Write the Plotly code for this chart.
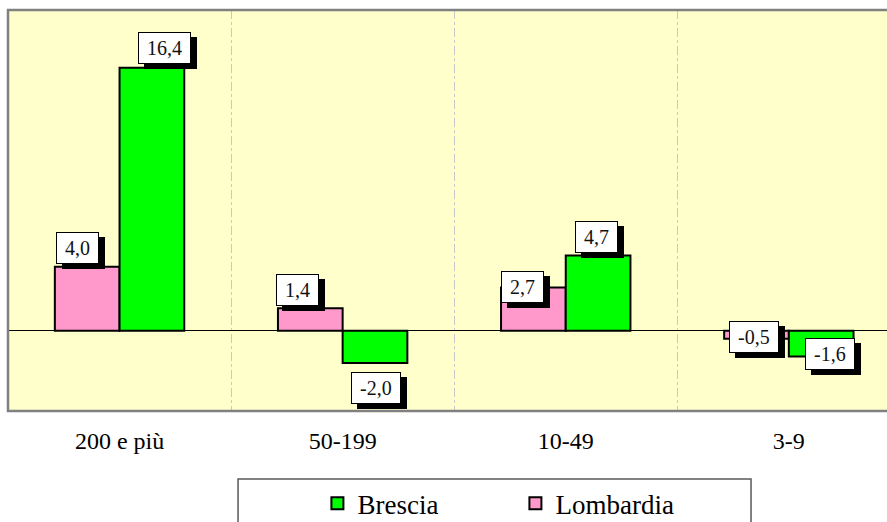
import plotly.graph_objects as go

categories = ["200 e più", "50-199", "10-49", "3-9"]
lombardia = [4.0, 1.4, 2.7, -0.5]
brescia = [16.4, -2.0, 4.7, -1.6]

font_name = "'Liberation Serif', 'Times New Roman', Times, serif"

fig = go.Figure()
fig.add_trace(go.Bar(x=categories, y=lombardia, name="Lombardia",
                     marker=dict(color="#FF99CC", line=dict(color="black", width=2))))
fig.add_trace(go.Bar(x=categories, y=brescia, name="Brescia",
                     marker=dict(color="#00FF00", line=dict(color="black", width=2))))


def label_text(v):
    return ("%.1f" % v).replace(".", ",")


def text_width(s, size=20):
    w = 0
    for ch in s:
        w += 0.25 if ch == "," else (0.333 if ch == "-" else 0.5)
    return w * size


# pixel offsets of the label boxes relative to category centre / bar end
lom_off = [(-42, 19), (-45, 18), (-43, 0), (-35, 2)]
bre_off = [(45, 20), (33, -25), (31, 18), (41, 2)]

annotations = []
for vals, offs in ((lombardia, lom_off), (brescia, bre_off)):
    for cat, v, (dx, dy) in zip(categories, vals, offs):
        t = label_text(v)
        w = text_width(t) + 8
        for shadow in (True, False):
            annotations.append(dict(
                x=cat, y=v, xref="x", yref="y", text=t, showarrow=False,
                xshift=dx + (6 if shadow else 0), yshift=dy - (5 if shadow else 0),
                width=w, height=22, borderpad=4, borderwidth=1,
                bordercolor="black",
                bgcolor="black" if shadow else "white",
                font=dict(family=font_name, size=20,
                          color="black" if shadow else "#111111"),
            ))

fig.update_layout(
    width=887, height=522,
    margin=dict(l=8, r=0, t=10, b=111, autoexpand=False),
    paper_bgcolor="white",
    plot_bgcolor="#FFFFCC",
    barmode="group",
    bargap=0.42,
    bargroupgap=0,
    font=dict(family=font_name, size=24, color="black"),
    showlegend=True,
    legend=dict(orientation="h", x=0.352, y=-0.17, xanchor="left", yanchor="top",
                traceorder="reversed", entrywidth=153, entrywidthmode="pixels",
                font=dict(family=font_name, size=27), bgcolor="rgba(0,0,0,0)"),
    annotations=annotations,
    shapes=[
        dict(type="rect", xref="paper", yref="paper", x0=0, x1=1.05, y0=0, y1=1,
             line=dict(color="#808080", width=2.5), layer="above"),
        dict(type="rect", xref="paper", yref="paper", x0=0.2617, x1=0.8453,
             y0=-0.35, y1=-0.1696, line=dict(color="#595959", width=1.5)),
    ],
)
fig.update_xaxes(range=[-0.5, 3.44], tickson="boundaries", showgrid=True,
                 gridcolor="#C8C8C8", griddash="dashdot", gridwidth=1,
                 ticks="", showline=False, tickfont=dict(size=24),
                 ticklabelstandoff=13, automargin=False)
fig.update_yaxes(range=[-5, 20], showgrid=False, showticklabels=False,
                 zeroline=True, zerolinecolor="black", zerolinewidth=1,
                 automargin=False)

fig.write_html("out.html", config={"displayModeBar": False},
               post_script="document.body.style.margin='0';")
